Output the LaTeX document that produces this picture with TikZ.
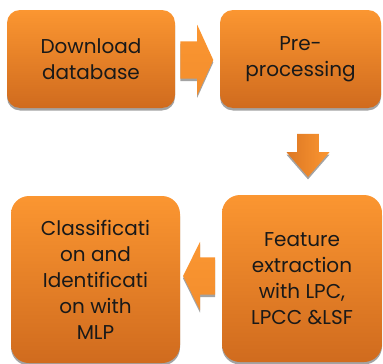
\documentclass[tikz,border=0pt]{standalone}
\usepackage{fontspec}
\setmainfont{Poppins}
\usetikzlibrary{calc,shapes.arrows,shadows}
\definecolor{boxtop}{HTML}{FB9631}
\definecolor{boxbottom}{HTML}{D06B1E}
\tikzset{
	stepbox/.style={
		rectangle,
		rounded corners=13pt,
		top color=boxtop,
		bottom color=boxbottom,
		drop shadow={shadow xshift=0pt,shadow yshift=-2.5pt,fill=black!45,opacity=0.8},
		text=black!90,
		align=center,
		inner sep=0pt,
		font=\fontsize{20}{26}\selectfont
	},
	flowarrow/.style={
		single arrow,
		inner xsep=0pt,
		top color=boxtop,
		bottom color=boxtop!80!boxbottom,
		drop shadow={shadow xshift=0pt,shadow yshift=-2.5pt,fill=black!45,opacity=0.8}
	}
}
\begin{document}
\begin{tikzpicture}[x=1pt,y=-1pt]
	\useasboundingbox (0,0) rectangle (383,364);

	%%% Nodes
	%% Top row
	\node at (91,59) [stepbox,minimum width=168pt,minimum height=98pt] (download) {Download\\database};
	\node at (300.5,59) [stepbox,minimum width=161pt,minimum height=98pt] (preproc) {Pre-\\processing};

	%% Bottom row
	\node at (302,278.5) [stepbox,rounded corners=18pt,minimum width=160pt,minimum height=167pt] (features) {Feature\\extraction\\with LPC,\\LPCC \&LSF};
	\node at (95.5,279.5) [stepbox,rounded corners=18pt,minimum width=169pt,minimum height=167pt] (classify) {Classificati\\on and\\Identificati\\on with\\MLP};

	%%% Connections
	\node at ($(download.east)!0.5!(preproc.west)+(16,1)$) [flowarrow,anchor=tip,
		inner ysep=18.5pt,minimum height=33pt,
		single arrow head extend=16.5pt,single arrow tip angle=131] (toprep) {};
	\node at ($(preproc.south)+(7.5,69)$) [flowarrow,anchor=tip,shape border rotate=270,
		left color=boxbottom!70!boxtop,right color=boxtop,
		inner xsep=9.5pt,inner ysep=0pt,minimum height=43pt,minimum width=43pt,
		single arrow head extend=9.5pt,single arrow tip angle=82] (tofeat) {};
	\node at ($(features.west)+(-39,-2.5)$) [flowarrow,anchor=tip,shape border rotate=180,
		inner ysep=18.5pt,minimum height=32pt,
		single arrow head extend=15.5pt,single arrow tip angle=127] (toclass) {};
\end{tikzpicture}
\end{document}
